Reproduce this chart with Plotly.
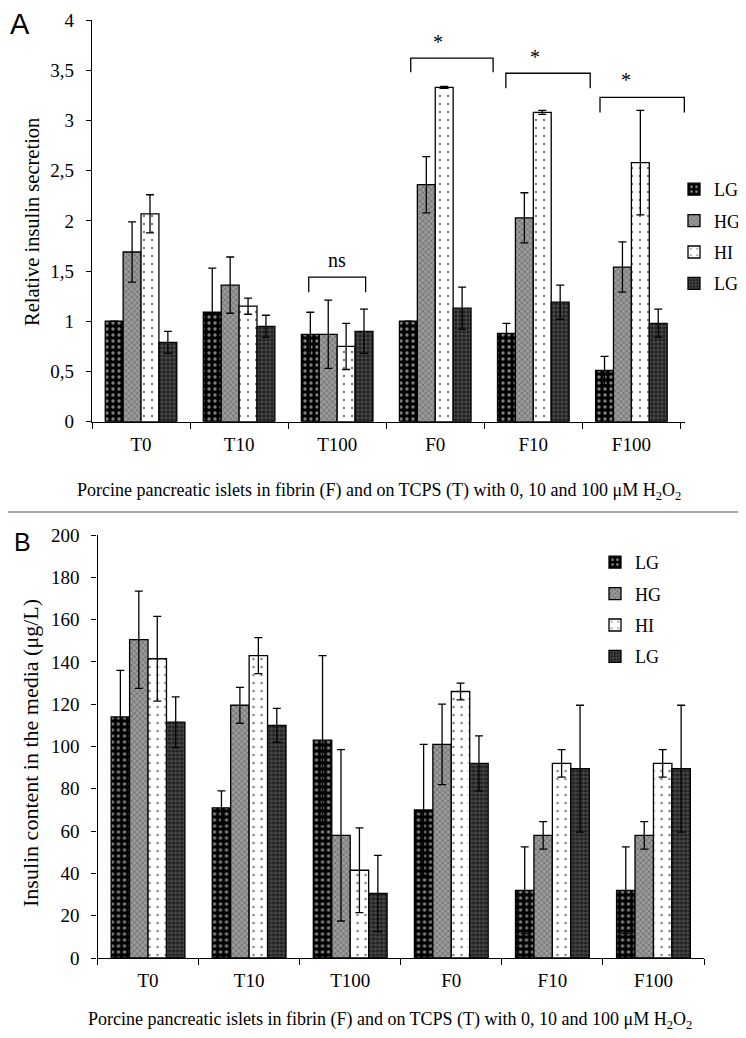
import plotly.graph_objects as go

categories = ["T0", "T10", "T100", "F0", "F10", "F100"]
series_names = ["LG", "HG", "HI", "LG"]

# Panel A: relative insulin secretion
a_LG = [1.00, 1.09, 0.87, 1.00, 0.88, 0.51]
a_LG_err = [0.0, 0.44, 0.22, 0.0, 0.10, 0.14]
a_HG = [1.69, 1.36, 0.87, 2.36, 2.03, 1.54]
a_HG_err = [0.30, 0.28, 0.34, 0.28, 0.25, 0.25]
a_HI = [2.07, 1.15, 0.75, 3.33, 3.08, 2.58]
a_HI_err = [0.19, 0.08, 0.23, 0.01, 0.02, 0.52]
a_LG2 = [0.79, 0.95, 0.90, 1.13, 1.19, 0.98]
a_LG2_err = [0.11, 0.11, 0.22, 0.21, 0.17, 0.14]

# Panel B: insulin content in the media (ug/L)
b_LG = [114, 71, 103, 70, 32, 32]
b_LG_err = [22, 8, 40, 31, 20.5, 20.5]
b_HG = [150.5, 119.5, 58, 101, 58, 58]
b_HG_err = [23, 8.5, 40.5, 19, 6.5, 6.5]
b_HI = [141.5, 143, 41.5, 126, 92, 92]
b_HI_err = [20, 8.5, 20, 4, 6.5, 6.5]
b_LG2 = [111.5, 110, 30.5, 92, 89.5, 89.5]
b_LG2_err = [12, 8, 18, 13, 30, 30]

# significance marks (panel A)
sig_labels = ["ns", "*", "*", "*"]
sig_cats = [2, 3, 4, 5]
sig_bar_y = [1.44, 3.62, 3.47, 3.23]
sig_end_y = [1.29, 3.48, 3.32, 3.08]
sig_text_y = [1.61, 3.78, 3.63, 3.40]
sig_left = [-0.29, -0.25, -0.28, -0.32]
sig_right = [0.29, 0.59, 0.58, 0.54]
sig_text_dx = [0.0, 0.03, 0.02, -0.06]

# page body has an 8px margin: the figure is drawn from (8, 8)
OFF = 8
W, H = 746 - OFF, 1038 - OFF
SERIF = "Liberation Serif"

patterns = [
    dict(shape=".", bgcolor="#000000", fgcolor="#ffffff", size=6, solidity=0.25, fillmode="overlay"),
    dict(shape="x", bgcolor="#9a9a9a", fgcolor="#4a4a4a", size=4, solidity=0.4, fillmode="overlay"),
    dict(shape=".", bgcolor="#ffffff", fgcolor="#000000", size=8, solidity=0.08, fillmode="overlay"),
    dict(shape="+", bgcolor="#1e1e1e", fgcolor="#9a9a9a", size=4, solidity=0.35, fillmode="overlay"),
]

fig = go.Figure()

a_vals = [a_LG, a_HG, a_HI, a_LG2]
a_errs = [a_LG_err, a_HG_err, a_HI_err, a_LG2_err]
b_vals = [b_LG, b_HG, b_HI, b_LG2]
b_errs = [b_LG_err, b_HG_err, b_HI_err, b_LG2_err]

for i in range(4):
    fig.add_trace(go.Bar(
        x=categories, y=a_vals[i], name=series_names[i],
        marker=dict(color=patterns[i]["bgcolor"], line=dict(color="black", width=1.3), pattern=patterns[i]),
        error_y=dict(type="data", array=a_errs[i], visible=True, color="black", thickness=1.3, width=4),
        xaxis="x", yaxis="y", legend="legend", legendgroup="a%d" % i, offsetgroup=str(i),
    ))
for i in range(4):
    fig.add_trace(go.Bar(
        x=categories, y=b_vals[i], name=series_names[i],
        marker=dict(color=patterns[i]["bgcolor"], line=dict(color="black", width=1.3), pattern=patterns[i]),
        error_y=dict(type="data", array=b_errs[i], visible=True, color="black", thickness=1.3, width=4),
        xaxis="x2", yaxis="y2", legend="legend2", legendgroup="b%d" % i, offsetgroup=str(i),
    ))

def px_x(p):
    return (p - OFF) / W

def px_y(p):
    return 1 - (p - OFF) / H

axis_font = dict(family=SERIF, size=19, color="black")
common_x = dict(type="category", showline=True, linecolor="black", linewidth=1.3,
                ticks="outside", tickson="boundaries", ticklen=6, tickcolor="black",
                tickfont=axis_font, showgrid=False, zeroline=False, ticklabelstandoff=5,
                automargin=False)
common_y = dict(showline=True, linecolor="black", linewidth=1.3,
                ticks="outside", ticklen=5, tickcolor="black",
                tickfont=axis_font, showgrid=False, zeroline=False, ticklabelstandoff=8,
                automargin=False)

fig.update_layout(
    width=W, height=H,
    margin=dict(l=0, r=0, t=0, b=0, autoexpand=False),
    paper_bgcolor="white", plot_bgcolor="white",
    separators=", ",
    barmode="group", bargap=0.27, bargroupgap=0,
    font=dict(family=SERIF, color="black"),
    xaxis=dict(domain=[px_x(92), px_x(685)], anchor="y", **common_x),
    yaxis=dict(domain=[px_y(421.7), px_y(20)], anchor="x", range=[0, 4], dtick=0.5, **common_y),
    xaxis2=dict(domain=[px_x(97.5), px_x(704)], anchor="y2", **common_x),
    yaxis2=dict(domain=[px_y(958), px_y(535)], anchor="x2", range=[0, 200], dtick=20, **common_y),
    legend=dict(x=px_x(674), y=px_y(171), xanchor="left", yanchor="top",
                font=dict(family=SERIF, size=18, color="black"), tracegroupgap=5,
                bgcolor="rgba(0,0,0,0)", itemwidth=30),
    legend2=dict(x=px_x(595), y=px_y(544), xanchor="left", yanchor="top",
                 font=dict(family=SERIF, size=18, color="black"), tracegroupgap=5,
                 bgcolor="rgba(0,0,0,0)", itemwidth=30),
)

shapes = []
annotations = []
for lab, c, yb, ye, yt, l, r, dx in zip(sig_labels, sig_cats, sig_bar_y, sig_end_y, sig_text_y,
                                       sig_left, sig_right, sig_text_dx):
    shapes.append(dict(type="path", xref="x", yref="y",
                       path="M %f,%f L %f,%f L %f,%f L %f,%f" % (c + l, ye, c + l, yb, c + r, yb, c + r, ye),
                       line=dict(color="black", width=1.3)))
    annotations.append(dict(x=c + dx, y=yt, xref="x", yref="y", text=lab,
                            showarrow=False, xanchor="center", yanchor="middle",
                            font=dict(family=SERIF, size=20, color="black")))

# separator line between panels
shapes.append(dict(type="line", xref="paper", yref="paper", x0=0, x1=1, y0=px_y(512), y1=px_y(512),
                   line=dict(color="#8a8a8a", width=1.3)))

xtitle = "Porcine pancreatic islets in fibrin (F) and on TCPS (T) with 0, 10 and 100 μM H<sub>2</sub>O<sub>2</sub>"
annotations += [
    dict(x=px_x(379), y=px_y(492), text=xtitle, font=dict(family=SERIF, size=18, color="black")),
    dict(x=px_x(390), y=px_y(1020), text=xtitle, font=dict(family=SERIF, size=18, color="black")),
    dict(x=px_x(32), y=px_y(222), text="Relative insulin secretion", textangle=-90,
         font=dict(family=SERIF, size=20.5, color="black")),
    dict(x=px_x(30), y=px_y(753), text="Insulin content in the media (μg/L)", textangle=-90,
         font=dict(family=SERIF, size=22, color="black")),
    dict(x=px_x(20), y=px_y(24), text="A", font=dict(family="Liberation Sans", size=29, color="black")),
    dict(x=px_x(22), y=px_y(542), text="B", font=dict(family="Liberation Sans", size=25, color="black")),
]
for a in annotations[-6:]:
    a.update(xref="paper", yref="paper", showarrow=False, xanchor="center", yanchor="middle")

fig.update_layout(shapes=shapes, annotations=annotations)
fig.write_html("out.html")
